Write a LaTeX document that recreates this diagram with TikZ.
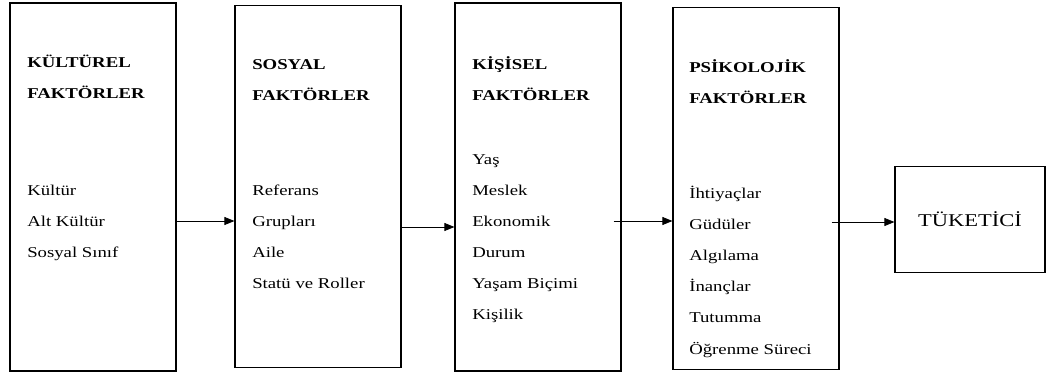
\documentclass[tikz,border=0pt]{standalone}
\usepackage{fontspec}
\setmainfont{Liberation Serif}[FakeStretch=1.25]
\usetikzlibrary{arrows.meta,positioning}

\begin{document}
\begin{tikzpicture}[x=0.75pt, y=-0.75pt, font=\fontsize{11.25}{13}\selectfont,
  kutu/.style={draw, line width=0.9pt, inner sep=0pt},
  baslik/.style={anchor=base west, inner sep=0pt, font=\fontsize{11.25}{13}\selectfont\bfseries},
  madde/.style={anchor=base west, inner sep=0pt},
  ok/.style={line width=0.6pt, -{Triangle[length=7.5pt,width=6pt]}}]
\useasboundingbox (0,0) rectangle (1048,374);
% boxes: one per factor group, then the consumer
\node[kutu, minimum width=124.5pt, minimum height=276pt] (kultur) at (93,187) {};
\node[kutu, minimum width=124.5pt, minimum height=272pt] (sosyal) at (318,186.5) {};
\node[kutu, minimum width=124.5pt, minimum height=276pt] (kisisel) at (538,187) {};
\node[kutu, minimum width=124.5pt, minimum height=272pt] (psiko) at (756,188.5) {};
\node[kutu, minimum width=112.5pt, minimum height=79pt,
      font=\fontsize{13.5}{15}\selectfont] (tuketici) at (970,219.5) {TÜKETİCİ};
% headings
\foreach \n/\x/\y/\t in {kb1/27/68/KÜLTÜREL, kb2/27/99/FAKTÖRLER,
    sb1/252/70/SOSYAL, sb2/252/101/FAKTÖRLER,
    ib1/472/70/KİŞİSEL, ib2/472/101/FAKTÖRLER,
    pb1/689/73/PSİKOLOJİK, pb2/689/104/FAKTÖRLER}
  \node[baslik] (\n) at (\x,\y) {\t};
% items
\foreach \t [count=\i] in {Kültür, Alt Kültür, Sosyal Sınıf}
  \node[madde] (k-\i) at (27,{195+(\i-1)*31}) {\t};
\foreach \t [count=\i] in {Referans, Grupları, Aile, Statü ve Roller}
  \node[madde] (s-\i) at (252,{195+(\i-1)*31}) {\t};
\foreach \t [count=\i] in {Yaş, Meslek, Ekonomik, Durum, Yaşam Biçimi, Kişilik}
  \node[madde] (i-\i) at (472,{164+(\i-1)*31}) {\t};
\foreach \t [count=\i] in {İhtiyaçlar, Güdüler, Algılama, İnançlar, Tutumma, Öğrenme Süreci}
  \node[madde] (p-\i) at (689,{198+(\i-1)*31.2}) {\t};
% arrows
\coordinate (h1) at (0,221);
\coordinate (h2) at (0,227);
\coordinate (h3) at (0,221);
\coordinate (h4) at (0,222);
\draw[ok] (kultur.east |- h1) -- (sosyal.west |- h1);
\draw[ok] (sosyal.east |- h2) -- (kisisel.west |- h2);
\draw[ok] (kisisel.east |- h3) ++(-6pt,0) -- (psiko.west |- h3);
\draw[ok] (psiko.east |- h4) ++(-6pt,0) -- (tuketici.west |- h4);
\end{tikzpicture}
\end{document}
